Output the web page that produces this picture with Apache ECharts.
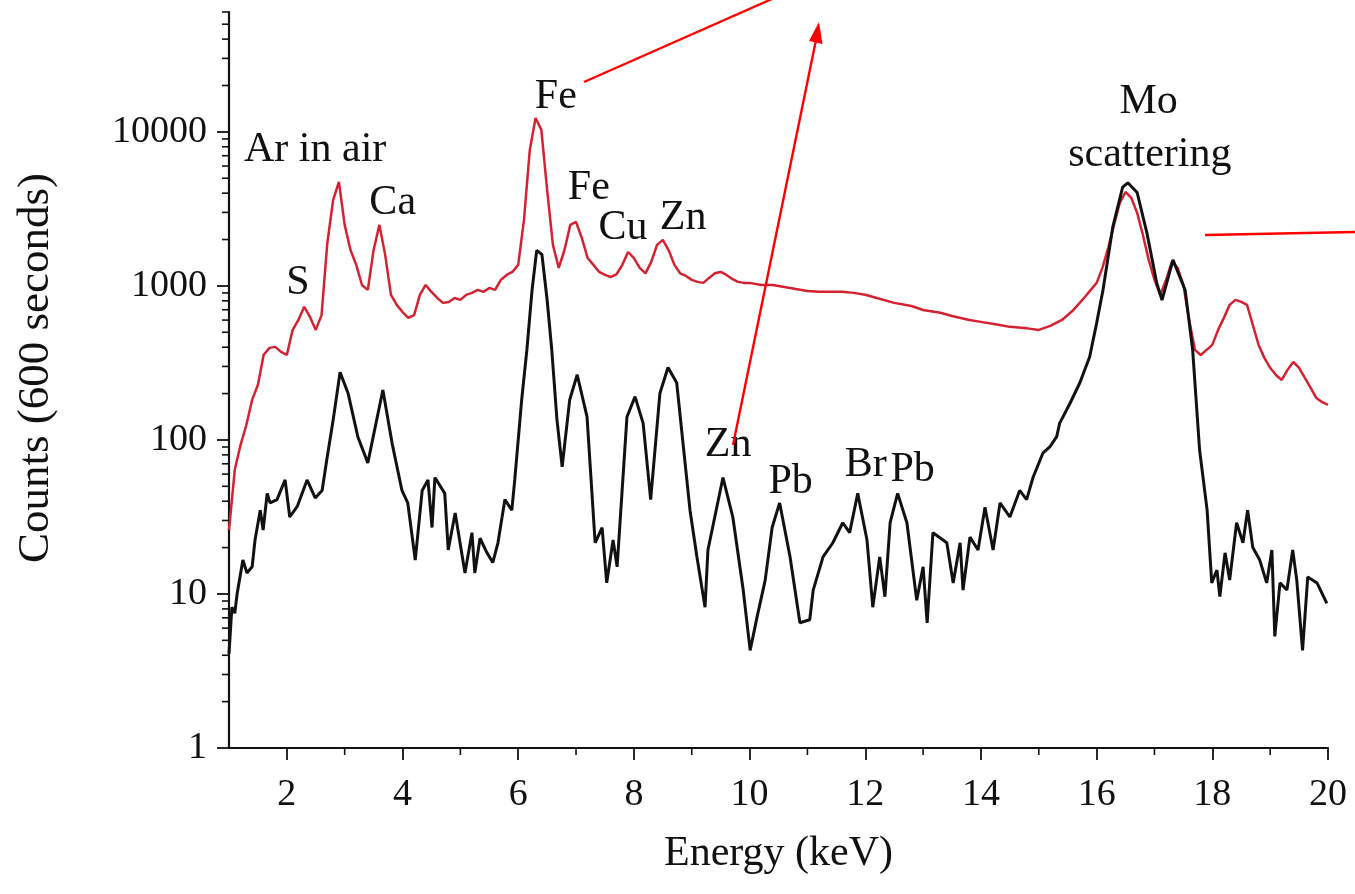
<!DOCTYPE html>
<html>
<head>
<meta charset="utf-8">
<title>XRF spectrum</title>
<script src="https://cdn.jsdelivr.net/npm/echarts@6/dist/echarts.min.js"></script>
<style>
  html, body { margin: 0; padding: 0; background: #fff; }
  #chart { width: 1355px; height: 894px; }
</style>
</head>
<body>
<div id="chart"></div>
<script>
// red spectrum (upper trace), keV and counts
const redKeV = [1.0, 1.1, 1.2, 1.3, 1.4, 1.5, 1.6, 1.7, 1.8, 1.9, 2.0, 2.1, 2.2, 2.3, 2.4, 2.5, 2.6, 2.7, 2.8, 2.9,
  3.0, 3.1, 3.2, 3.3, 3.4, 3.5, 3.6, 3.7, 3.8, 3.9, 4.0, 4.1, 4.2, 4.3, 4.4, 4.5, 4.6, 4.7, 4.8, 4.9,
  5.0, 5.1, 5.2, 5.3, 5.4, 5.5, 5.6, 5.7, 5.8, 5.9, 6.0, 6.1, 6.2, 6.3, 6.4, 6.5, 6.6, 6.7, 6.8, 6.9,
  7.0, 7.1, 7.2, 7.3, 7.4, 7.5, 7.6, 7.7, 7.8, 7.9, 8.0, 8.1, 8.2, 8.3, 8.4, 8.5, 8.6, 8.7, 8.8, 8.9,
  9.0, 9.1, 9.2, 9.3, 9.4, 9.5, 9.6, 9.7, 9.8, 9.9, 10.0, 10.2, 10.4, 10.6, 10.8, 11.0, 11.2, 11.4, 11.6, 11.8,
  12.0, 12.2, 12.5, 12.8, 13.0, 13.3, 13.5, 13.8, 14.0, 14.3, 14.5, 14.8, 15.0, 15.2, 15.4, 15.6, 15.8,
  16.0, 16.1, 16.2, 16.3, 16.4, 16.5, 16.6, 16.7, 16.8, 16.9, 17.0, 17.1, 17.2, 17.3, 17.4, 17.5, 17.6, 17.7, 17.8, 17.9,
  18.0, 18.1, 18.2, 18.3, 18.4, 18.5, 18.6, 18.7, 18.8, 18.9, 19.0, 19.1, 19.2, 19.3, 19.4, 19.5, 19.6, 19.7, 19.8, 19.9, 20.0];
const redCounts = [26, 64, 93, 125, 182, 228, 357, 396, 402, 373, 356, 518, 601, 731, 629, 518, 646, 1900, 3600, 4730,
  2490, 1710, 1370, 1010, 942, 1710, 2490, 1590, 875, 753, 676, 620, 646, 875, 1014, 915, 835, 776, 787, 835,
  811, 875, 901, 942, 915, 970, 942, 1094, 1178, 1232, 1370, 2690, 7600, 12300, 10300, 4200, 1845, 1309, 1710, 2490,
  2600, 2040, 1517, 1370, 1232, 1178, 1143, 1190, 1370, 1660, 1517, 1309, 1207, 1432, 1845, 1990, 1710, 1370, 1207, 1160,
  1094, 1062, 1046, 1127, 1207, 1232, 1178, 1110, 1062, 1046, 1046, 1014, 1014, 985, 955, 928, 915, 915, 915, 901,
  875, 835, 776, 740, 698, 670, 638, 600, 584, 560, 542, 530, 518, 550, 601, 698, 850,
  1046, 1309, 1766, 2490, 3460, 4070, 3725, 2980, 2140, 1475, 1094, 875, 1094, 1432, 1309, 1014, 601, 384, 356, 384,
  414, 518, 620, 753, 811, 787, 753, 558, 414, 341, 294, 264, 245, 285, 321, 294, 253, 218, 187, 176, 169];

// black spectrum (lower trace)
const blackKeV = [1.00, 1.05, 1.10, 1.14, 1.24, 1.31, 1.40, 1.45, 1.54, 1.59, 1.66, 1.71, 1.83, 1.97, 2.05, 2.18, 2.35, 2.49, 2.61, 2.69,
  2.80, 2.92, 3.06, 3.23, 3.40, 3.66, 3.82, 3.99, 4.09, 4.22, 4.34, 4.44, 4.51, 4.56, 4.73, 4.79, 4.91, 5.08, 5.20, 5.25,
  5.34, 5.46, 5.56, 5.65, 5.77, 5.89, 5.94, 6.06, 6.15, 6.24, 6.32, 6.41, 6.50, 6.58, 6.67, 6.76, 6.89, 7.02, 7.19, 7.33,
  7.45, 7.53, 7.64, 7.71, 7.88, 8.02, 8.16, 8.29, 8.45, 8.59, 8.74, 8.97, 9.09, 9.23, 9.28, 9.54, 9.71, 9.89, 10.01, 10.13,
  10.27, 10.39, 10.52, 10.70, 10.87, 11.04, 11.10, 11.27, 11.44, 11.61, 11.73, 11.87, 12.03, 12.13, 12.25, 12.34, 12.43, 12.56, 12.72, 12.89,
  13.00, 13.07, 13.17, 13.41, 13.52, 13.64, 13.69, 13.81, 13.95, 14.07, 14.21, 14.33, 14.50, 14.67, 14.79, 14.90, 15.07, 15.19, 15.31, 15.36,
  15.54, 15.71, 15.88, 16.00, 16.11, 16.28, 16.45, 16.54, 16.70, 16.87, 17.04, 17.13, 17.32, 17.53, 17.66, 17.78, 17.91, 17.99, 18.08, 18.13,
  18.22, 18.30, 18.42, 18.53, 18.61, 18.70, 18.82, 18.94, 19.03, 19.08, 19.17, 19.29, 19.39, 19.46, 19.56, 19.65, 19.81, 19.98];
const blackCounts = [4.1, 8.2, 7.5, 10, 16.6, 13.7, 15, 22.4, 35, 26, 45, 39, 41, 55, 31.6, 37, 55, 42, 47, 74,
  134, 275, 200, 104, 71, 211, 95, 47, 39, 16.6, 47, 55, 27, 57, 45, 19.3, 33.5, 13.7, 25, 13.7,
  23, 18.5, 16, 21.5, 41, 35, 55, 182, 385, 945, 1700, 1600, 810, 385, 135, 67, 182, 265, 141, 21.5,
  27, 11.8, 22.4, 15, 141, 191, 128, 41, 201, 295, 235, 35, 17.4, 8.2, 19.3, 57, 31.6, 10.6, 4.3, 7.1,
  12.3, 27, 39, 17.4, 6.5, 6.8, 10.6, 17.4, 21.5, 29, 25, 45, 22.4, 8.2, 17.4, 9.6, 29, 45, 29, 9.1,
  15, 6.5, 25, 21.5, 11.8, 21.5, 10.6, 23.4, 19.3, 36.6, 19.3, 39, 31.6, 47, 41, 57, 82, 90, 105, 128,
  173, 235, 347, 573, 940, 2420, 4380, 4670, 4040, 2200, 1040, 810, 1475, 940, 384, 86, 35, 11.8, 14.3, 9.6,
  18.5, 12.3, 29, 21.5, 35, 20, 16.6, 11.8, 19.3, 5.3, 11.8, 10.6, 19.3, 12.3, 4.3, 12.9, 11.8, 8.7];

// peak annotations: text, keV, counts (label centre)
const peakText = ['Ar in air', 'S', 'Ca', 'Fe', 'Fe', 'Cu', 'Zn', 'Zn', 'Pb', 'Br', 'Pb', 'Mo', 'scattering'];
const peakKeV = [2.49, 2.19, 3.83, 6.65, 7.22, 7.81, 8.85, 9.63, 10.71, 12.01, 12.82, 16.90, 16.92];
const peakCounts = [7640, 1045, 3460, 16870, 4330, 2380, 2765, 93, 53, 69, 64, 15660, 7090];

// axis ticks
const xMajor = [2, 4, 6, 8, 10, 12, 14, 16, 18, 20];
const xMinor = [3, 5, 7, 9, 11, 13, 15, 17, 19];
const yMajor = [1, 10, 100, 1000, 10000];
const yMinor = [];
for (let k = 0; k <= 4; k++) {
  for (let m = 2; m <= 9; m++) {
    if (m * Math.pow(10, k) <= 60000) yMinor.push(m * Math.pow(10, k));
  }
}

const serif = 'Liberation Serif';
const ink = '#111';
const chart = echarts.init(document.getElementById('chart'));

// short minor tick marks drawn at axis values
const tickSeries = (data, dx, dy) => ({
  type: 'custom',
  clip: false,
  silent: true,
  z: 5,
  data: data,
  renderItem: (params, api) => {
    const p = api.coord([api.value(0), api.value(1)]);
    return {
      type: 'line',
      shape: { x1: p[0], y1: p[1], x2: p[0] + dx, y2: p[1] + dy },
      style: { stroke: ink, lineWidth: 1.6 }
    };
  }
});

chart.setOption({
  animation: false,
  backgroundColor: '#fff',
  grid: { left: 229, right: 27, top: 12, bottom: 146 },
  xAxis: {
    type: 'value',
    min: 1,
    max: 20,
    interval: 1,
    name: 'Energy (keV)',
    nameLocation: 'middle',
    nameGap: 85,
    nameTextStyle: { fontFamily: serif, fontSize: 42, color: ink },
    axisLine: { lineStyle: { color: ink, width: 2.2 } },
    axisTick: { customValues: xMajor, length: 12, lineStyle: { color: ink, width: 1.8 } },
    axisLabel: { customValues: xMajor, margin: 28, fontFamily: serif, fontSize: 38, color: ink },
    splitLine: { show: false }
  },
  yAxis: {
    type: 'log',
    logBase: 10,
    min: 1,
    max: 60000,
    name: 'Counts (600 seconds)',
    nameLocation: 'middle',
    nameGap: 170,
    nameTextStyle: { fontFamily: serif, fontSize: 45, color: ink, padding: [0, 0, 0, 24] },
    axisLine: { show: true, lineStyle: { color: ink, width: 2.2 } },
    axisTick: { customValues: yMajor, length: 12, lineStyle: { color: ink, width: 1.8 } },
    axisLabel: {
      customValues: yMajor,
      margin: 22,
      fontFamily: serif,
      fontSize: 38,
      color: ink,
      formatter: (v) => String(Math.round(v))
    },
    splitLine: { show: false }
  },
  series: [
    {
      name: 'red',
      type: 'line',
      showSymbol: false,
      z: 3,
      data: redKeV.map((k, i) => [k, redCounts[i]]),
      lineStyle: { color: '#d42232', width: 2.5 }
    },
    {
      name: 'black',
      type: 'line',
      showSymbol: false,
      z: 4,
      data: blackKeV.map((k, i) => [k, blackCounts[i]]),
      lineStyle: { color: ink, width: 3 }
    },
    {
      name: 'labels',
      type: 'scatter',
      silent: true,
      symbolSize: 1,
      itemStyle: { color: 'rgba(0,0,0,0)' },
      z: 6,
      data: peakText.map((t, i) => [peakKeV[i], peakCounts[i], t]),
      label: {
        show: true,
        position: 'inside',
        formatter: (p) => p.data[2],
        fontFamily: serif,
        fontSize: 42,
        color: ink,
        opacity: 1,
        textBorderWidth: 0
      }
    },
    tickSeries(xMinor.map((v) => [v, 1]), 0, 7),
    tickSeries(yMinor.map((v) => [1, v]), -7, 0)
  ],
  graphic: [
    // red annotation strokes drawn over the figure
    { type: 'line', z: 100, shape: { x1: 584, y1: 82, x2: 772, y2: -1 }, style: { stroke: '#ff0000', lineWidth: 2.4 } },
    { type: 'line', z: 100, shape: { x1: 733, y1: 445, x2: 816, y2: 40 }, style: { stroke: '#ff0000', lineWidth: 2.4 } },
    { type: 'polygon', z: 100, shape: { points: [[819, 22], [822.5, 44], [809, 41]] }, style: { fill: '#ff0000' } },
    { type: 'line', z: 100, shape: { x1: 1205, y1: 235, x2: 1355, y2: 232 }, style: { stroke: '#ff0000', lineWidth: 2.4 } }
  ]
});
</script>
</body>
</html>
